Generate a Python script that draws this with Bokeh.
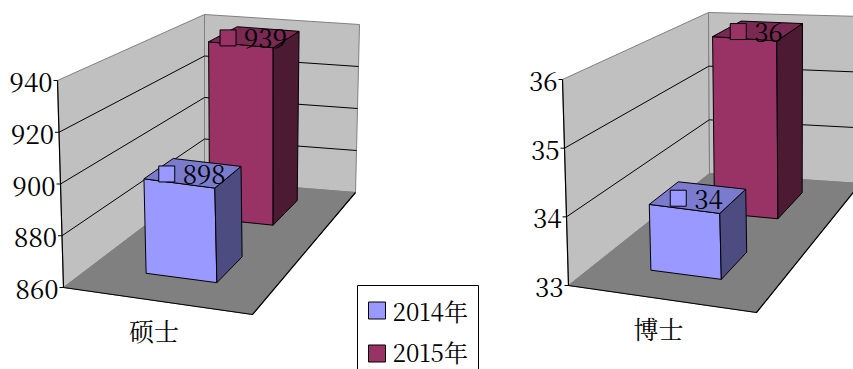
from bokeh.plotting import figure
from bokeh.models import Range1d
from bokeh.core.properties import value
from bokeh.embed import file_html
from bokeh.resources import INLINE

# ---------------- data ----------------
categories = ["硕士", "博士"]
series_names = ["2014年", "2015年"]
values_2014 = [898, 34]
values_2015 = [939, 36]
ticks_master = [860, 880, 900, 920, 940]
ticks_phd = [33, 34, 35, 36]

# ---------------- styles ----------------
front_colors = ["#9999FF", "#993366"]
side_colors = ["#4C4C80", "#4D1A33"]
top_colors = ["#7B7BCD", "#7A2952"]
WALL = "#C0C0C0"
FLOOR = "#808080"
FONT = value("Noto Serif CJK SC")
FS = "26px"

geoms = [
    dict(FBL=(63, 287), FBR=(252, 314), FTL=(57, 80),
         BBL=(204, 180), BBR=(355, 192), BTL=(204, 14), BTR=(359, 24)),
    dict(FBL=(568, 285), FBR=(756, 312), FTL=(562, 79),
         BBL=(709, 173), BBR=(860, 183), BTL=(708, 12), BTR=(862, 16)),
]
U0, U1 = 0.30, 0.69
DEPTH = [(0.20, 0.42), (0.69, 0.90)]


def bil(BL, BR, TL, TR, u, t):
    bx = (1 - u) * BL[0] + u * BR[0]
    by = (1 - u) * BL[1] + u * BR[1]
    tx = (1 - u) * TL[0] + u * TR[0]
    ty = (1 - u) * TL[1] + u * TR[1]
    return ((1 - t) * bx + t * tx, (1 - t) * by + t * ty)


def proj(g, u, d, t):
    FTR = (g["FBR"][0] + g["FTL"][0] - g["FBL"][0], g["FBR"][1] + g["FTL"][1] - g["FBL"][1])
    F = bil(g["FBL"], g["FBR"], g["FTL"], FTR, u, t)
    B = bil(g["BBL"], g["BBR"], g["BTL"], g["BTR"], u, t)
    return ((1 - d) * F[0] + d * B[0], (1 - d) * F[1] + d * B[1])


def poly(g, pts):
    xy = [proj(g, *q) for q in pts]
    return [q[0] for q in xy], [q[1] for q in xy]


p = figure(width=853, height=369, x_range=Range1d(0, 853), y_range=Range1d(369, 0),
           output_backend="svg", toolbar_location=None, min_border=0,
           background_fill_color="white", border_fill_color="white")
p.axis.visible = False
p.xgrid.visible = False
p.ygrid.visible = False
p.outline_line_color = None

all_ticks = [ticks_master, ticks_phd]
series_vals = [values_2014, values_2015]

for ci, g in enumerate(geoms):
    ticks = all_ticks[ci]
    vmin, vmax = ticks[0], ticks[-1]
    for pts, col in [
        ([(0, 0, 0), (0, 0, 1), (0, 1, 1), (0, 1, 0)], WALL),
        ([(0, 1, 0), (0, 1, 1), (1, 1, 1), (1, 1, 0)], WALL),
        ([(0, 0, 0), (1, 0, 0), (1, 1, 0), (0, 1, 0)], FLOOR),
    ]:
        xs, ys = poly(g, pts)
        p.patch(xs, ys, fill_color=col, line_color="#808080", line_width=1)
    for tv in ticks[1:-1]:
        t = (tv - vmin) / (vmax - vmin)
        xs, ys = poly(g, [(0, 0, t), (0, 1, t), (1, 1, t)])
        p.line(xs, ys, line_color="black", line_width=1)
    xs, ys = poly(g, [(0, 0, 1), (0, 0, 0), (1, 0, 0), (1, 1, 0)])
    p.line(xs, ys, line_color="black", line_width=1.2)
    tx, ty, tt = [], [], []
    for tv in ticks:
        t = (tv - vmin) / (vmax - vmin)
        x, y = proj(g, 0, 0, t)
        p.line([x - 4, x], [y, y], line_color="black", line_width=1)
        tx.append(x - 5)
        ty.append(y + 2)
        tt.append(str(tv))
    p.text(x=tx, y=ty, text=tt, text_font=FONT, text_font_size=FS,
           text_align="right", text_baseline="middle", text_color="black")
    cx, cy = proj(g, 0.5, 0, 0)
    p.text(x=[cx - 4], y=[cy + 29], text=[categories[ci]], text_font=FONT,
           text_font_size="25px", text_align="center", text_baseline="middle", text_color="black")
    label_items = []
    for si in [1, 0]:
        v = series_vals[si][ci]
        tv = (v - vmin) / (vmax - vmin)
        d0, d1 = DEPTH[si]
        faces = [
            ([(U0, d0, 0), (U1, d0, 0), (U1, d0, tv), (U0, d0, tv)], front_colors[si]),
            ([(U1, d0, 0), (U1, d1, 0), (U1, d1, tv), (U1, d0, tv)], side_colors[si]),
            ([(U0, d0, tv), (U1, d0, tv), (U1, d1, tv), (U0, d1, tv)], top_colors[si]),
        ]
        for pts, col in faces:
            xs, ys = poly(g, pts)
            p.patch(xs, ys, fill_color=col, line_color="black", line_width=1)
        mx, my = proj(g, (U0 + U1) / 2, (d0 + d1) / 2, tv)
        label_items.append((si, v, mx, my))
    for si, v, mx, my in label_items:
        s = str(v)
        tw = 13 * len(s)
        left = mx - 3 - (16 + 8 + tw) / 2
        yc = my + 1
        p.quad(left=[left], right=[left + 16], top=[yc - 8], bottom=[yc + 8],
               fill_color=front_colors[si], line_color="black", line_width=1)
        p.text(x=[left + 24], y=[yc + 1], text=[s], text_font=FONT,
               text_font_size=FS, text_align="left", text_baseline="middle", text_color="black")

p.quad(left=[357], right=[478], top=[285], bottom=[380], fill_color="white",
       line_color="black", line_width=1)
for si, name in enumerate(series_names):
    yc = 310 + 43 * si
    p.quad(left=[368], right=[385], top=[yc - 8.5], bottom=[yc + 8.5],
           fill_color=front_colors[si], line_color="black", line_width=1)
    p.text(x=[392], y=[yc - 2 * si], text=[name], text_font=FONT, text_font_size="24px",
           text_align="left", text_baseline="middle", text_color="black")

open("out.html", "w").write(file_html(p, INLINE))
